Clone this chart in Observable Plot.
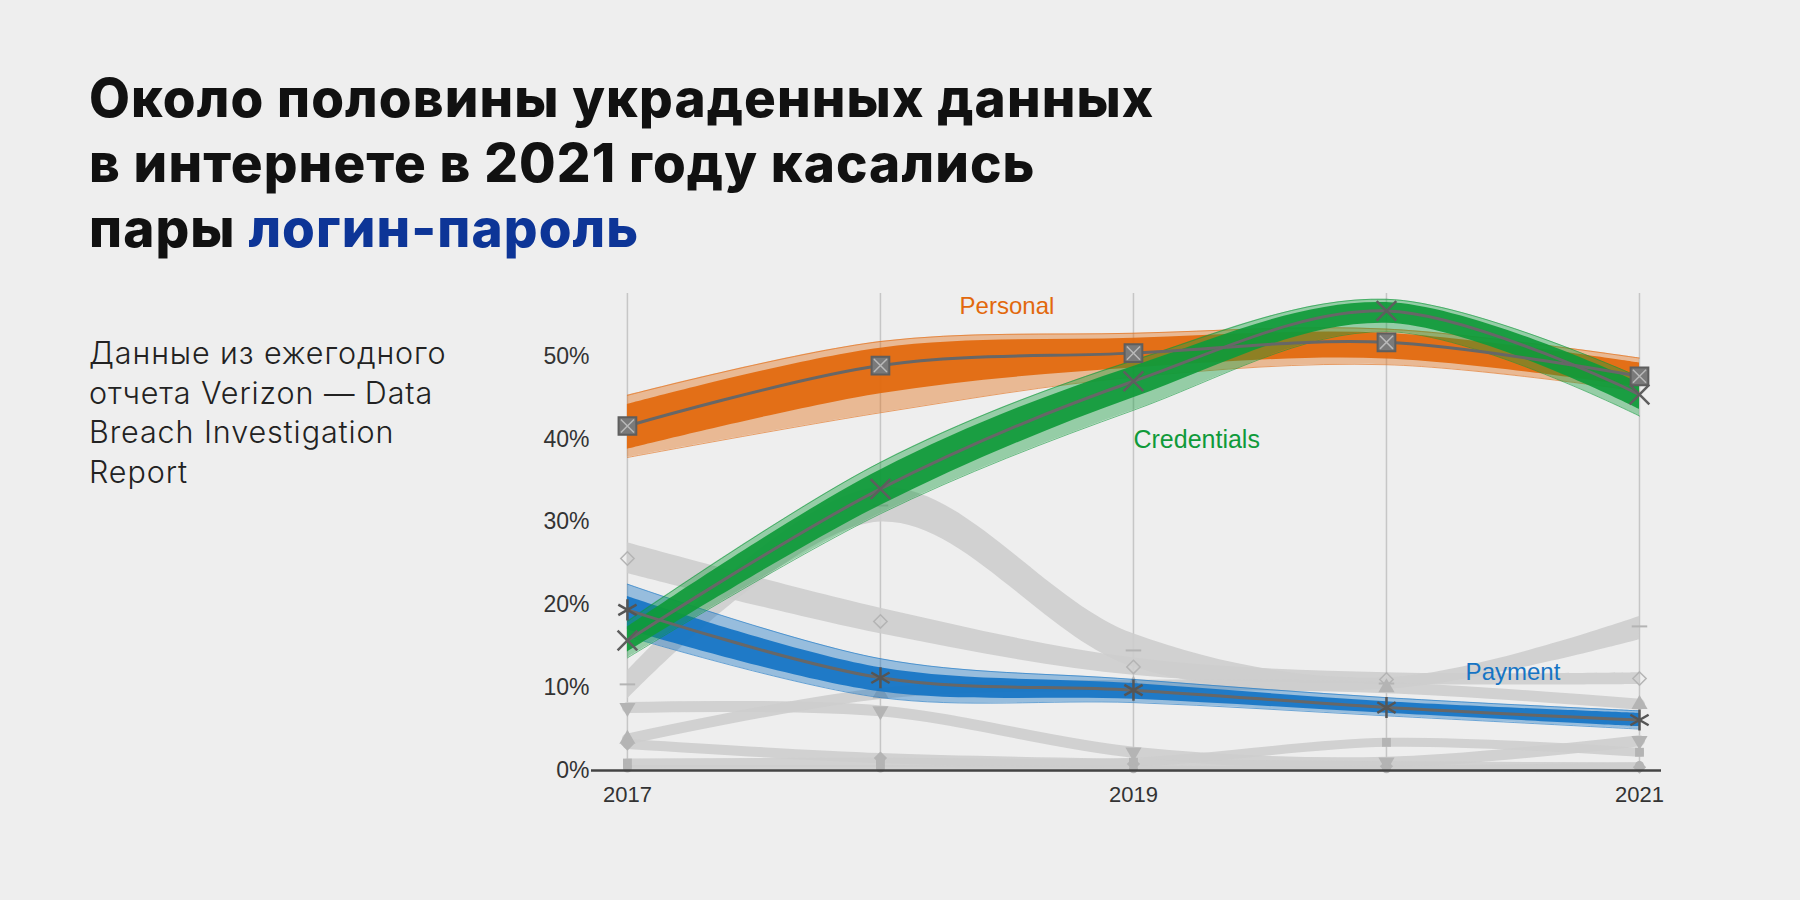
<!DOCTYPE html>
<html><head><meta charset="utf-8">
<script src="https://cdn.jsdelivr.net/npm/d3@7"></script>
<script src="https://cdn.jsdelivr.net/npm/@observablehq/plot@0.6"></script>
<style>
html,body{margin:0;padding:0;background:#eeeeee;}
#page{position:relative;width:1800px;height:900px;background:#eeeeee;overflow:hidden;}
#title{position:absolute;left:89px;top:66px;font-family:Inter,"Noto Sans",sans-serif;font-weight:800;font-size:53px;line-height:65px;color:#111;letter-spacing:1.1px;}
#title .acc{color:#0d3597;}
#sub{position:absolute;left:89px;top:333px;font-family:Inter,"Noto Sans",sans-serif;font-weight:300;font-size:30.5px;line-height:39.5px;color:#222;letter-spacing:0.9px;}
#chart{position:absolute;left:500px;top:270px;}
</style></head>
<body><div id="page">
<div id="title">Около половины украденных данных<br>в интернете в 2021 году касались<br>пары <span class="acc">логин-пароль</span></div>
<div id="sub">Данные из ежегодного<br>отчета Verizon — Data<br>Breach Investigation<br>Report</div>
<div id="chart"></div>
</div>
<script>
const years = [2017, 2018, 2019, 2020, 2021];
const xTickYears = [2017, 2019, 2021];
const yTicks = [0, 10, 20, 30, 40, 50];

// Personal (orange)
const personalMid = [41.6, 48.9, 50.4, 51.7, 47.6];
const personalInnerLow = [38.8, 45.5, 48.6, 49.7, 46.3];
const personalInnerHigh = [44.2, 51.0, 52.2, 52.8, 49.2];
const personalOuterLow = [37.8, 43.2, 47.5, 49.0, 45.8];
const personalOuterHigh = [45.3, 51.8, 52.8, 53.3, 49.8];

// Credentials (green)
const credMid = [15.7, 34.0, 47.0, 55.5, 45.4];
const credInnerLow = [14.3, 32.0, 45.0, 54.0, 43.6];
const credInnerHigh = [17.3, 36.3, 48.8, 56.5, 46.8];
const credOuterLow = [13.6, 31.0, 43.5, 53.0, 42.8];
const credOuterHigh = [18.0, 37.2, 49.5, 56.9, 47.5];

// Payment (blue)
const payMid = [19.4, 11.2, 9.7, 7.6, 6.1];
const payInnerLow = [17.0, 9.5, 8.6, 6.9, 5.3];
const payInnerHigh = [21.0, 12.4, 10.5, 8.3, 6.9];
const payOuterLow = [16.2, 8.8, 8.2, 6.6, 5.0];
const payOuterHigh = [22.5, 13.5, 11.0, 8.8, 7.2];

// Other varieties (gray)
const g1Low = [23.8, 16.5, 11.5, 10.4, 10.4];
const g1High = [27.5, 19.6, 13.6, 11.8, 11.8];
const g1Mid = [25.6, 18.0, 12.5, 11.0, 11.1];
const g2Low = [8.6, 30.0, 12.5, 9.8, 15.8];
const g2High = [12.0, 34.2, 16.5, 11.2, 18.6];
const g2Mid = [10.4, 32.0, 14.5, 10.5, 17.4];
const g3Mid = [7.6, 7.2, 2.2, 1.0, 3.6];
const g4Mid = [3.8, 9.3, 10.3, 10.0, 8.0];
const g5Mid = [3.2, 1.5, 0.8, 0.5, 0.4];
const g6Mid = [0.9, 1.0, 1.0, 3.4, 2.2];
const g7Mid = [0.3, 0.3, 0.2, 0.2, 0.6];

const rows = (arrs) => years.map((year, i) => {
  const o = {year};
  for (const k in arrs) o[k] = arrs[k][i];
  return o;
});
const personal = rows({mid: personalMid, il: personalInnerLow, ih: personalInnerHigh, ol: personalOuterLow, oh: personalOuterHigh});
const cred = rows({mid: credMid, il: credInnerLow, ih: credInnerHigh, ol: credOuterLow, oh: credOuterHigh});
const pay = rows({mid: payMid, il: payInnerLow, ih: payInnerHigh, ol: payOuterLow, oh: payOuterHigh});
const g1 = rows({mid: g1Mid, lo: g1Low, hi: g1High});
const g2 = rows({mid: g2Mid, lo: g2Low, hi: g2High});
const g3 = rows({mid: g3Mid});
const g4 = rows({mid: g4Mid});
const g5 = rows({mid: g5Mid});
const g6 = rows({mid: g6Mid});
const g7 = rows({mid: g7Mid});

const curve = "catmull-rom";
const GRAY = "#cdcdcd", GMARK = "#b4b4b4";
const ORANGE = "#e2680c", GREEN = "#0f9a3a", BLUE = "#1574c4", MED = "#676767";

const dash = {draw(ctx, size) { const r = Math.sqrt(size) / 1.6; ctx.moveTo(-r, 0); ctx.lineTo(r, 0); }};

function bundle(data, color) {
  return [
    Plot.areaY(data, {x: "year", y1: "ol", y2: "oh", curve, fill: color, fillOpacity: 0.4}),
    Plot.lineY(data, {x: "year", y: "ol", curve, stroke: color, strokeWidth: 1, strokeOpacity: 0.6}),
    Plot.lineY(data, {x: "year", y: "oh", curve, stroke: color, strokeWidth: 1, strokeOpacity: 0.6}),
    Plot.areaY(data, {x: "year", y1: "il", y2: "ih", curve, fill: color, fillOpacity: 0.92})
  ];
}

const chart = Plot.plot({
  width: 1200, height: 560,
  marginLeft: 91, marginRight: 39, marginTop: 23, marginBottom: 60,
  style: {background: "transparent", fontFamily: "'Liberation Sans', Arial, sans-serif", fontSize: "22px", color: "#333", overflow: "visible"},
  x: {domain: [2016.858, 2021.087], label: null},
  y: {domain: [0, 57.6], label: null},
  marks: [
    Plot.ruleX(years, {stroke: "#c6c6c6", strokeWidth: 1.5}),
    Plot.axisX(xTickYears, {tickSize: 0, tickPadding: 16, tickFormat: d => String(d), fill: "#333", fontSize: 22, letterSpacing: -0.5}),
    Plot.axisY(yTicks, {tickSize: 0, tickPadding: 2, tickFormat: d => d + "%", fill: "#333", fontSize: 23, letterSpacing: -0.2}),
    // gray bundles
    Plot.areaY(g1, {x: "year", y1: "lo", y2: "hi", curve, fill: GRAY, fillOpacity: 0.9}),
    Plot.areaY(g2, {x: "year", y1: "lo", y2: "hi", curve, fill: GRAY, fillOpacity: 0.9}),
    Plot.lineY(g3, {x: "year", y: "mid", curve, stroke: GRAY, strokeWidth: 11, strokeOpacity: 0.9}),
    Plot.lineY(g4, {x: "year", y: "mid", curve, stroke: GRAY, strokeWidth: 11, strokeOpacity: 0.9}),
    Plot.lineY(g5, {x: "year", y: "mid", curve, stroke: GRAY, strokeWidth: 10, strokeOpacity: 0.9}),
    Plot.lineY(g6, {x: "year", y: "mid", curve, stroke: GRAY, strokeWidth: 9, strokeOpacity: 0.9}),
    Plot.lineY(g7, {x: "year", y: "mid", curve, stroke: GRAY, strokeWidth: 6, strokeOpacity: 0.9}),
    Plot.dot(g1, {x: "year", y: "mid", symbol: "diamond2", r: 6, stroke: GMARK, strokeWidth: 1.5, fill: "none"}),
    Plot.dot(g2, {x: "year", y: "mid", symbol: dash, r: 7, stroke: GMARK, strokeWidth: 2}),
    Plot.dot(g3, {x: "year", y: "mid", symbol: "triangle", rotate: 180, r: 6, fill: GMARK}),
    Plot.dot(g4, {x: "year", y: "mid", symbol: "triangle", r: 6, fill: GMARK}),
    Plot.dot(g5, {x: "year", y: "mid", symbol: "diamond2", r: 6, fill: GMARK}),
    Plot.dot(g6, {x: "year", y: "mid", symbol: "square", r: 5, fill: GMARK}),
    Plot.dot(g7, {x: "year", y: "mid", symbol: "circle", r: 4.5, fill: GMARK}),
    // colored bundles
    ...bundle(pay, BLUE),
    ...bundle(personal, ORANGE),
    ...bundle(cred, GREEN),
    // medians
    Plot.lineY(pay, {x: "year", y: "mid", curve, stroke: MED, strokeWidth: 3}),
    Plot.lineY(personal, {x: "year", y: "mid", curve, stroke: MED, strokeWidth: 3}),
    Plot.lineY(cred, {x: "year", y: "mid", curve, stroke: MED, strokeWidth: 3}),
    Plot.dot(personal, {x: "year", y: "mid", symbol: "square", r: 10, fill: "#7a7a7a", stroke: "#5e5e5e", strokeWidth: 2}),
    Plot.dot(personal, {x: "year", y: "mid", symbol: "times", r: 6, stroke: "#b9b9b9", strokeWidth: 1.5}),
    Plot.dot(cred, {x: "year", y: "mid", symbol: "times", r: 9, stroke: "#5e5e5e", strokeWidth: 2.5}),
    Plot.dot(pay, {x: "year", y: "mid", symbol: "asterisk", r: 10, stroke: "#555", strokeWidth: 2.5}),
    // baseline
    Plot.ruleY([0], {stroke: "#444", strokeWidth: 2.5}),
    // labels
    Plot.text(["Personal"], {x: 2018.5, y: 56.0, text: d => d, fill: ORANGE, fontSize: 24, letterSpacing: -0.3, textAnchor: "middle"}),
    Plot.text(["Credentials"], {x: 2019, y: 39.9, text: d => d, fill: GREEN, fontSize: 25, letterSpacing: -0.3, textAnchor: "start"}),
    Plot.text(["Payment"], {x: 2020.5, y: 11.8, text: d => d, fill: BLUE, fontSize: 24, letterSpacing: -0.3, textAnchor: "middle"})
  ]
});
document.getElementById("chart").appendChild(chart);
</script>
</body></html>
